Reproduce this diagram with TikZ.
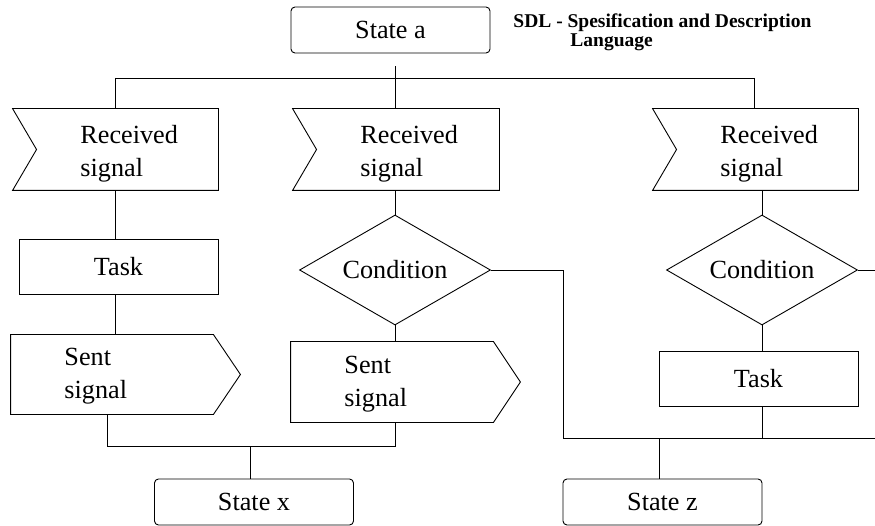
\documentclass[tikz,border=0pt]{standalone}
\usepackage{fontspec}
\setmainfont{Liberation Serif}
\usetikzlibrary{shapes.geometric,calc}
\begin{document}
\begin{tikzpicture}[x=1pt,y=-1pt,line width=0.9pt,
  every node/.style={font=\fontsize{26.2}{33}\selectfont},
  statebox/.style={draw,rounded corners=4pt,minimum width=199pt,minimum height=46pt,inner sep=0pt},
  taskbox/.style={draw,minimum width=199pt,minimum height=55pt,inner sep=0pt},
  sigshape/.style={inner sep=0pt,draw=none},
  cond/.style={draw,diamond,aspect=1.74,minimum width=191pt,minimum height=110pt,inner sep=0pt},
  lbl/.style={align=left,anchor=north west,inner sep=0pt},
  title/.style={font=\fontsize{19.5}{22}\selectfont\bfseries,anchor=base west,inner sep=0pt}]
\useasboundingbox (0,0) rectangle (875,526);

% states
\node[statebox] (sa) at (390.5,30) {State a};
\node[statebox] (sx) at (254,502) {State x};
\node[statebox] (sz) at (662.5,502) {State z};

% title
\node[title] (t1) at (513,28) {SDL - Spesification and Description};
\node[title] (t2) at (570,47) {Language};

% received signals
\node[sigshape,minimum width=205pt,minimum height=81pt] (r1) at (115.5,149.5) {};
\node[sigshape,minimum width=206pt,minimum height=81pt] (r2) at (396,149.5) {};
\node[sigshape,minimum width=205pt,minimum height=81pt] (r3) at (755.5,149.5) {};
\foreach \r in {r1,r2,r3}{
  \draw (\r.north west) -- (\r.north east) -- (\r.south east) -- (\r.south west)
        -- ($(\r.west)+(24,0)$) -- cycle;
}
\node[lbl] (r1t) at (80,125) {Received\\signal};
\node[lbl] (r2t) at (360,125) {Received\\signal};
\node[lbl] (r3t) at (720,125) {Received\\signal};

% tasks
\node[taskbox] (k1) at (118.5,266.5) {Task};
\node[taskbox] (k3) at (758.5,378.5) {Task};

% conditions
\node[cond] (c2) at (395,270) {Condition};
\node[cond] (c3) at (762,270) {Condition};

% sent signals
\node[sigshape,minimum width=202pt,minimum height=79pt] (s1) at (112,374.5) {};
\node[sigshape,minimum width=202pt,minimum height=80pt] (s2) at (392,382) {};
\foreach \s in {s1,s2}{
  \draw (\s.north west) -- (\s.north east) -- ($(\s.east)+(27,0)$) -- (\s.south east)
        -- (\s.south west) -- cycle;
}
\node[lbl] (s1t) at (64,348) {Sent\\signal};
\node[lbl] (s2t) at (344,356) {Sent\\signal};

% bus coordinates
\coordinate (tl) at (115,78);
\coordinate (tm) at (395,78);
\coordinate (tr) at (754,78);
\coordinate (bl) at (107,446);
\coordinate (bm) at (395,446);
\coordinate (bx) at (250,446);
\coordinate (cl) at (563,270);
\coordinate (cb) at (563,438);
\coordinate (ce) at (875,438);
\coordinate (cz) at (659,438);
\coordinate (ck) at (762,438);
\coordinate (c3e) at (875,270);

% top connectors
\draw (tl) -- (tr);
\draw ($(sa.south)+(4.5,13)$) -- (r2.north -| tm);
\draw (tl) -- (r1.north -| tl);
\draw (tr) -- (r3.north -| tr);

% column 1
\draw (r1.south -| tl) -- (k1.north -| tl);
\draw (k1.south -| tl) -- (s1.north -| tl);
\draw (s1.south -| bl) -- (bl) -- (bm) -- (s2.south -| bm);
\draw (bx) -- (sx.north -| bx);

% column 2
\draw (r2.south -| tm) -- (c2.north);
\draw (c2.south) -- (s2.north -| c2.south);
\draw (c2.east) -- (cl) -- (cb) -- (ce);
\draw (cz) -- (sz.north -| cz);

% column 3
\draw (r3.south -| ck) -- (c3.north);
\draw (c3.south) -- (k3.north -| ck);
\draw (k3.south -| ck) -- (ck);
\draw (c3.east) -- (c3e);
\end{tikzpicture}
\end{document}
